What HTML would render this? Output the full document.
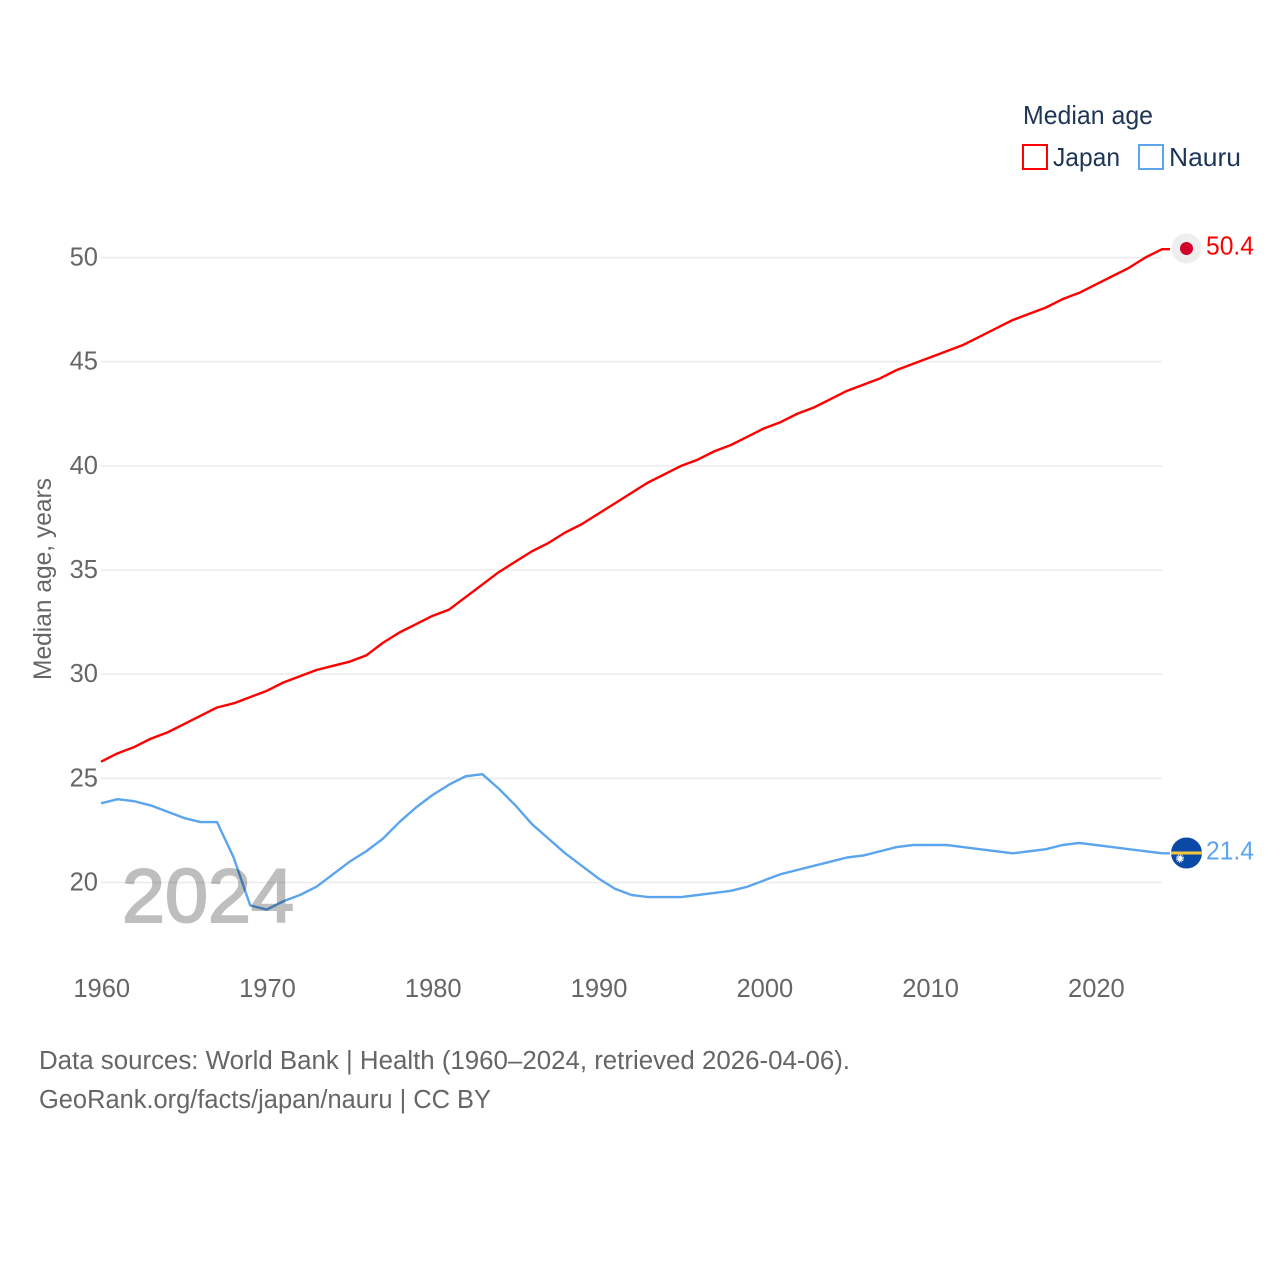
<!DOCTYPE html>
<html lang="en">
<head>
<meta charset="utf-8">
<title>Median age: Japan and Nauru</title>
<style>
html,body{margin:0;padding:0;background:#fff;}
svg{display:block;}
text{font-family:"Liberation Sans",sans-serif;}
</style>
</head>
<body>
<svg id="chart" xmlns="http://www.w3.org/2000/svg" width="1280" height="1280" viewBox="0 0 1280 1280">
  <rect width="1280" height="1280" fill="#fff"/>
  <g id="grid"></g>
  <g id="yticks"></g>
  <g id="xticks"></g>
  <text transform="translate(51,680) rotate(-90)" font-size="25" fill="#666" textLength="202" lengthAdjust="spacingAndGlyphs">Median age, years</text>
  <g id="series"></g>
  <text x="122" y="922" font-size="76" font-weight="400" fill="#000" stroke="#000" stroke-width="2" opacity="0.25" textLength="172" lengthAdjust="spacingAndGlyphs">2024</text>

  <g>
    <text x="1023" y="124" font-size="26" fill="#1d3557" textLength="130" lengthAdjust="spacingAndGlyphs">Median age</text>
    <g>
      <rect x="1023" y="145" width="24" height="24" fill="#fff" stroke="#ff0000" stroke-width="2"/>
      <text x="1053" y="166" font-size="26" fill="#1d3557" textLength="67" lengthAdjust="spacingAndGlyphs">Japan</text>
    </g>
    <g>
      <rect x="1139" y="145" width="24" height="24" fill="#fff" stroke="#5ba4ee" stroke-width="2"/>
      <text x="1169" y="166" font-size="26" fill="#1d3557" textLength="72" lengthAdjust="spacingAndGlyphs">Nauru</text>
    </g>
  </g>

  <g id="japan-end">
    <circle cx="1186.5" cy="248.5" r="15" fill="#eeeeee"/>
    <circle cx="1186.5" cy="248.5" r="6.5" fill="#d0002b"/>
    <text x="1206" y="254.5" font-size="25.5" fill="#ff0000" textLength="48" lengthAdjust="spacingAndGlyphs">50.4</text>
  </g>
  <g id="nauru-end">
    <circle cx="1186.5" cy="853" r="15.5" fill="#0a4aa6"/>
    <rect x="1171" y="851.5" width="31" height="3" fill="#f5c83c"/>
    <circle cx="1180" cy="858.5" r="2.6" fill="#ffffff"/>
    <circle cx="1180" cy="858.5" r="3.4" fill="none" stroke="#ffffff" stroke-width="1.4" stroke-dasharray="0.9 0.88"/>
    <text x="1206" y="859.5" font-size="25.5" fill="#5ba4ee" textLength="48" lengthAdjust="spacingAndGlyphs">21.4</text>
  </g>

  <text x="39" y="1069" font-size="25.5" fill="#666" textLength="811" lengthAdjust="spacingAndGlyphs">Data sources: World Bank | Health (1960–2024, retrieved 2026-04-06).</text>
  <text x="39" y="1108" font-size="25.5" fill="#666" textLength="452" lengthAdjust="spacingAndGlyphs">GeoRank.org/facts/japan/nauru | CC BY</text>
</svg>
<script>
const years = [1960,1961,1962,1963,1964,1965,1966,1967,1968,1969,1970,1971,1972,1973,1974,1975,1976,1977,1978,1979,1980,1981,1982,1983,1984,1985,1986,1987,1988,1989,1990,1991,1992,1993,1994,1995,1996,1997,1998,1999,2000,2001,2002,2003,2004,2005,2006,2007,2008,2009,2010,2011,2012,2013,2014,2015,2016,2017,2018,2019,2020,2021,2022,2023,2024];
const japanValues = [25.8,26.2,26.5,26.9,27.2,27.6,28.0,28.4,28.6,28.9,29.2,29.6,29.9,30.2,30.4,30.6,30.9,31.5,32.0,32.4,32.8,33.1,33.7,34.3,34.9,35.4,35.9,36.3,36.8,37.2,37.7,38.2,38.7,39.2,39.6,40.0,40.3,40.7,41.0,41.4,41.8,42.1,42.5,42.8,43.2,43.6,43.9,44.2,44.6,44.9,45.2,45.5,45.8,46.2,46.6,47.0,47.3,47.6,48.0,48.3,48.7,49.1,49.5,50.0,50.4];
const nauruValues = [23.8,24.0,23.9,23.7,23.4,23.1,22.9,22.9,21.2,18.9,18.7,19.1,19.4,19.8,20.4,21.0,21.5,22.1,22.9,23.6,24.2,24.7,25.1,25.2,24.5,23.7,22.8,22.1,21.4,20.8,20.2,19.7,19.4,19.3,19.3,19.3,19.4,19.5,19.6,19.8,20.1,20.4,20.6,20.8,21.0,21.2,21.3,21.5,21.7,21.8,21.8,21.8,21.7,21.6,21.5,21.4,21.5,21.6,21.8,21.9,21.8,21.7,21.6,21.5,21.4];
const yTickValues = [20,25,30,35,40,45,50];
const xTickValues = [1960,1970,1980,1990,2000,2010,2020];

const NS = 'http://www.w3.org/2000/svg';
function xScale(year){ return 101 + (year - 1960) * (1162 - 101) / 64; }
function yScale(v){ return 882.5 - (v - 20) * (882.5 - 257.5) / 30; }
function make(tag, parent){
  const el = document.createElementNS(NS, tag);
  parent.appendChild(el);
  return el;
}

const grid = document.getElementById('grid');
const yticks = document.getElementById('yticks');
const xticks = document.getElementById('xticks');
const series = document.getElementById('series');

yTickValues.forEach(function(v){
  const line = make('line', grid);
  
  
  line.setAttribute('x1', 101);
  line.setAttribute('x2', 1162);
  line.setAttribute('y1', yScale(v));
  line.setAttribute('y2', yScale(v));
  line.setAttribute('stroke', '#ebebeb');
  line.setAttribute('stroke-width', '1.5');

  const label = make('text', yticks);
  
  
  label.setAttribute('x', 98);
  label.setAttribute('y', yScale(v) + 8);
  label.setAttribute('text-anchor', 'end');
  label.setAttribute('font-size', '25.5');
  label.setAttribute('fill', '#666');
  label.textContent = String(v);
});

xTickValues.forEach(function(year){
  const label = make('text', xticks);
  
  
  label.setAttribute('x', xScale(year) + 0.7);
  label.setAttribute('y', 997);
  label.setAttribute('text-anchor', 'middle');
  label.setAttribute('font-size', '25.5');
  label.setAttribute('fill', '#666');
  label.textContent = String(year);
});

function drawSeries(values, color, seriesName){
  let d = '';
  values.forEach(function(v, i){
    d += (i ? 'L' : 'M') + xScale(years[i]).toFixed(2) + ' ' + yScale(v).toFixed(2);
  });
  d += 'H' + (xScale(years[years.length - 1]) + 8).toFixed(2);
  const path = make('path', series);
  
  
  path.setAttribute('d', d);
  path.setAttribute('fill', 'none');
  path.setAttribute('stroke', color);
  path.setAttribute('stroke-width', '2.4');
  path.setAttribute('stroke-linejoin', 'round');
}
drawSeries(nauruValues, '#5ba4ee', 'nauru-line');
drawSeries(japanValues, '#ff0000', 'japan-line');

function placeEnd(id, values){
  const delta = yScale(values[values.length - 1]) - yScale(id === 'japan-end' ? 50.4 : 21.4);
  document.getElementById(id).setAttribute('transform', 'translate(0,' + delta.toFixed(2) + ')');
}
placeEnd('japan-end', japanValues);
placeEnd('nauru-end', nauruValues);
</script>
</body>
</html>
